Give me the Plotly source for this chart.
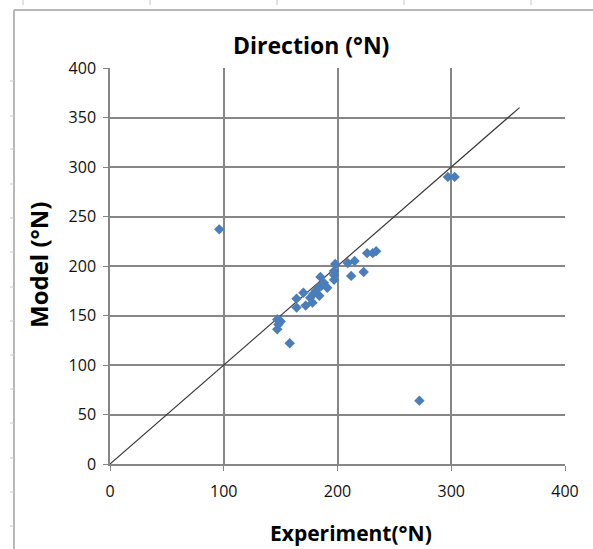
import plotly.graph_objects as go

# Experiment vs Model direction (°N)
experiment = [96, 147, 149, 150, 148, 147, 158, 164, 164, 170, 172,
              176, 178, 179, 181, 183, 184, 186, 185, 188, 191,
              197, 197, 197, 198, 209, 215, 212, 223, 226, 234, 231,
              272, 297, 303]
model = [237, 146, 145, 144, 141, 136, 122, 158, 167, 173, 160,
         168, 163, 172, 175, 178, 170, 180, 189, 183, 178,
         186, 191, 195, 202, 203, 205, 190, 194, 213, 215, 213,
         64, 290, 290]
line_x = [0, 360]
line_y = [0, 360]
ticks = [0, 50, 100, 150, 200, 250, 300, 350, 400]
xticks = [0, 100, 200, 300, 400]

W, H = 593, 549
L, R, T, B = 110, 28, 68, 85
pw, ph = W - L - R, H - T - B

def px(x):
    return (x - L) / pw

def py(y):
    return (H - B - y) / ph

fig = go.Figure()
fig.add_trace(go.Scatter(x=line_x, y=line_y, mode="lines",
                         line=dict(color="#3a3a3a", width=1.2), showlegend=False,
                         hoverinfo="skip"))
fig.add_trace(go.Scatter(x=experiment, y=model, mode="markers",
                         marker=dict(symbol="diamond", size=8, color="#4a7ebb",
                                     line=dict(width=0)),
                         showlegend=False))

font = "'Open Sans', sans-serif"
grid = "#868686"
fig.update_xaxes(range=[0, 400], tickvals=xticks, showgrid=True, gridcolor=grid,
                 gridwidth=1.5, zeroline=False, showline=True, linecolor=grid,
                 linewidth=1.5, ticks="outside", ticklen=5, tickcolor=grid,
                 ticklabelstandoff=7,
                 tickfont=dict(size=16, color="#111", family=font))
fig.update_yaxes(range=[0, 400], tickvals=ticks, showgrid=True, gridcolor=grid,
                 gridwidth=1.5, zeroline=False, showline=True, linecolor=grid,
                 linewidth=1.5, ticks="outside", ticklen=5, tickcolor=grid,
                 ticklabelstandoff=4,
                 tickfont=dict(size=16, color="#111", family=font))

annotations = [
    dict(text="<b>Direction (°N)</b>", xref="paper", yref="paper", x=px(311), y=py(45),
         xanchor="center", yanchor="middle", showarrow=False,
         font=dict(size=23, color="#000", family=font)),
    dict(text="<b>Experiment(°N)</b>", xref="paper", yref="paper", x=px(351), y=py(533),
         xanchor="center", yanchor="middle", showarrow=False,
         font=dict(size=21, color="#000", family=font)),
    dict(text="<b>Model (°N)</b>", xref="paper", yref="paper", x=px(38), y=py(265),
         xanchor="center", yanchor="middle", showarrow=False, textangle=-90,
         font=dict(size=24, color="#000", family=font)),
]

shapes = []
# outer frame (left and top)
shapes.append(dict(type="line", xref="paper", yref="paper", x0=px(14), x1=px(14),
                   y0=py(10), y1=py(549), line=dict(color="#a0a0a0", width=1.5)))
shapes.append(dict(type="line", xref="paper", yref="paper", x0=px(14), x1=px(593),
                   y0=py(10), y1=py(10), line=dict(color="#a0a0a0", width=1.5)))
for yy in [81, 116, 149, 184, 218, 252, 287, 321, 355, 389, 423, 458, 492, 526]:
    shapes.append(dict(type="line", xref="paper", yref="paper", x0=px(10), x1=px(14),
                       y0=py(yy), y1=py(yy), line=dict(color="#c8c8c8", width=1)))
for xx in [23, 150, 277, 404, 531]:
    shapes.append(dict(type="line", xref="paper", yref="paper", x0=px(xx), x1=px(xx),
                       y0=py(0), y1=py(5), line=dict(color="#c8c8c8", width=1)))

fig.update_layout(
    width=W, height=H,
    margin=dict(l=L, r=R, t=T, b=B),
    paper_bgcolor="white", plot_bgcolor="white",
    shapes=shapes,
    annotations=annotations,
)

fig.write_html("out.html")
